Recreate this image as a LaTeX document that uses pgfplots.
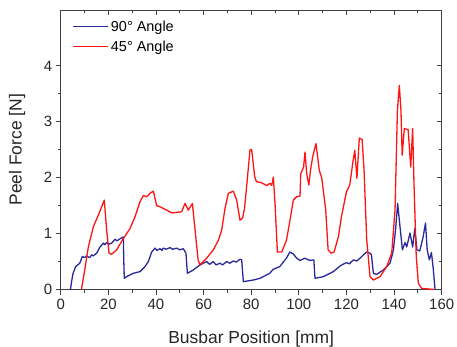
\documentclass[border=0pt]{standalone}
\usepackage{pgfplots}
\pgfplotsset{compat=1.18}
\usepackage{fontspec}
\setmainfont{Liberation Sans}
\definecolor{ninety}{RGB}{40,40,155}
\definecolor{fortyfive}{RGB}{255,20,20}
\begin{document}
\begin{tikzpicture}
\begin{axis}[
  scale only axis, width=381bp, height=279.5bp,
  xmin=0, xmax=160, ymin=0, ymax=5,
  xtick={0,20,...,160}, ytick={0,1,2,3,4},
  minor x tick num=1, minor y tick num=1,
  xtick pos=left, ytick pos=left,
  tick align=outside,
  major tick length=5bp, minor tick length=3bp,
  axis line style={black!75, line width=0.9bp},
  every tick/.style={black!75, line width=0.9bp},
  /pgf/number format/assume math mode=true,
  tick label style={font=\fontsize{15}{17}\selectfont, text=black!85},
  xticklabel style={yshift=-1bp},
  label style={font=\fontsize{17.5}{20}\selectfont, text=black!85},
  xlabel={Busbar Position [mm]}, ylabel={Peel Force [N]},
  xlabel style={at={(axis description cs:0.5,-0.177)}, anchor=center},
  ylabel style={at={(axis description cs:-0.1147,0.5)}, anchor=center},
  legend style={draw=none, fill=none, at={(axis description cs:0.028,0.9735)}, anchor=north west,
    font=\fontsize{14.5}{17}\selectfont, row sep=4bp, inner sep=1bp},
  legend cell align=left,
  legend image code/.code={\draw[#1, line width=1.4bp] (0bp,0bp) -- (35bp,0bp);},
]
\addplot[ninety, line width=1.3bp, line join=round] coordinates {
(4.1,0.0)(4.6,0.15)(5.2,0.29)(6.3,0.41)(8.0,0.47)(9.1,0.59)(10.0,0.57)(10.8,0.60)(12.2,0.57)(13.0,0.62)(13.6,0.60)(15.1,0.65)(16.5,0.76)(17.9,0.83)(18.5,0.80)(19.3,0.84)(20.3,0.81)(21.4,0.83)(22.8,0.90)(23.6,0.87)(25.0,0.91)(26.3,0.94)(26.5,0.5)(26.7,0.20)(27.7,0.23)(30.5,0.29)(33.3,0.32)(35.4,0.41)(36.8,0.50)(38.2,0.67)(39.6,0.74)(40.4,0.70)(41.7,0.73)(42.5,0.70)(43.1,0.74)(44.3,0.72)(45.9,0.75)(47.0,0.72)(48.7,0.74)(50.0,0.71)(51.5,0.73)(52.6,0.65)(53.2,0.29)(55.7,0.35)(58.5,0.44)(61.3,0.50)(62.5,0.45)(64.1,0.50)(65.2,0.44)(66.9,0.47)(68.0,0.44)(69.7,0.50)(71.0,0.47)(72.5,0.51)(73.7,0.49)(75.3,0.54)(76.0,0.53)(76.7,0.14)(80.9,0.17)(83.7,0.20)(87.8,0.29)(89.2,0.36)(92.0,0.41)(94.8,0.56)(96.2,0.67)(97.6,0.64)(99.1,0.56)(100.5,0.52)(102.5,0.56)(104.6,0.52)(106.3,0.53)(106.8,0.20)(110.3,0.23)(114.5,0.32)(117.3,0.42)(118.5,0.45)(120.0,0.48)(121.2,0.46)(122.9,0.53)(124.3,0.51)(125.7,0.56)(127.1,0.62)(128.5,0.67)(129.8,0.65)(130.5,0.62)(131.3,0.29)(132.7,0.27)(135.5,0.35)(138.3,0.47)(139.7,0.70)(140.6,1.06)(141.5,1.54)(142.5,1.12)(143.5,0.71)(144.6,0.84)(145.3,0.76)(146.7,1.01)(147.8,0.76)(148.7,1.09)(149.6,0.71)(150.8,0.69)(152.2,0.94)(153.2,1.19)(153.9,0.71)(154.8,0.53)(155.7,0.66)(156.5,0.35)(157.2,0.0)
};
\addlegendentry{90° Angle}
\addplot[fortyfive, line width=1.3bp, line join=round] coordinates {
(8.7,0.0)(10.1,0.35)(11.6,0.76)(13.7,1.12)(15.8,1.33)(17.2,1.48)(18.3,1.60)(19.3,1.06)(20.3,0.65)(21.4,0.63)(23.5,0.71)(26.3,0.91)(29.1,1.09)(31.2,1.30)(33.3,1.57)(34.7,1.68)(36.2,1.66)(37.5,1.72)(38.9,1.76)(40.3,1.50)(41.7,1.48)(44.5,1.42)(46.6,1.37)(48.7,1.38)(50.8,1.39)(52.2,1.54)(53.6,1.42)(55.3,1.54)(56.3,1.12)(57.7,0.53)(58.5,0.44)(61.3,0.56)(64.1,0.71)(66.2,0.88)(67.6,1.06)(69.0,1.45)(70.4,1.72)(72.5,1.76)(73.9,1.60)(75.3,1.24)(76.4,1.28)(77.2,1.45)(78.1,1.85)(79.5,2.50)(80.2,2.50)(81.5,2.01)(82.2,1.93)(84.3,1.91)(86.5,1.86)(87.9,1.90)(88.6,1.86)(89.3,2.01)(90.0,1.54)(91.0,0.67)(92.8,0.67)(94.8,0.88)(96.3,1.24)(97.7,1.60)(99.1,1.66)(100.5,1.67)(100.8,2.07)(102.0,2.19)(102.6,2.46)(103.3,2.07)(104.2,1.87)(104.9,2.13)(105.8,2.37)(107.2,2.61)(108.6,2.13)(109.6,2.0)(111.3,1.42)(112.3,0.71)(113.5,0.65)(114.8,0.67)(116.6,0.94)(117.9,1.30)(120.0,1.75)(121.4,1.87)(122.8,2.31)(123.5,2.49)(124.4,1.99)(125.4,2.71)(126.6,2.68)(127.4,2.13)(128.5,0.90)(129.9,0.23)(131.3,0.17)(134.1,0.23)(136.9,0.41)(139.0,0.65)(140.4,1.42)(141.4,3.2)(142.2,3.65)(142.9,3.2)(143.4,2.4)(144.3,2.88)(145.9,2.86)(147.0,2.19)(147.8,2.88)(148.4,1.84)(149.3,0.6)(150.2,0.11)(151.6,0.02)(157.0,0.0)
};
\addlegendentry{45° Angle}
\coordinate (O) at (rel axis cs:0,0);
\end{axis}
\begin{axis}[
  scale only axis, width=381bp, height=279.5bp,
  xmin=0, xmax=160, ymin=0, ymax=5,
  xtick={0,20,...,160}, ytick={0,1,2,3,4},
  minor x tick num=1, minor y tick num=1,
  xtick pos=right, ytick pos=right,
  tick align=inside,
  major tick length=5bp, minor tick length=3bp,
  axis line style={draw=none},
  every tick/.style={black!75, line width=0.9bp},
  xticklabels={}, yticklabels={},
]
\end{axis}
\pgfresetboundingbox
\path (O) ++(-60.7bp,-57.5bp) rectangle ++(457bp,347bp);
\end{tikzpicture}
\end{document}
